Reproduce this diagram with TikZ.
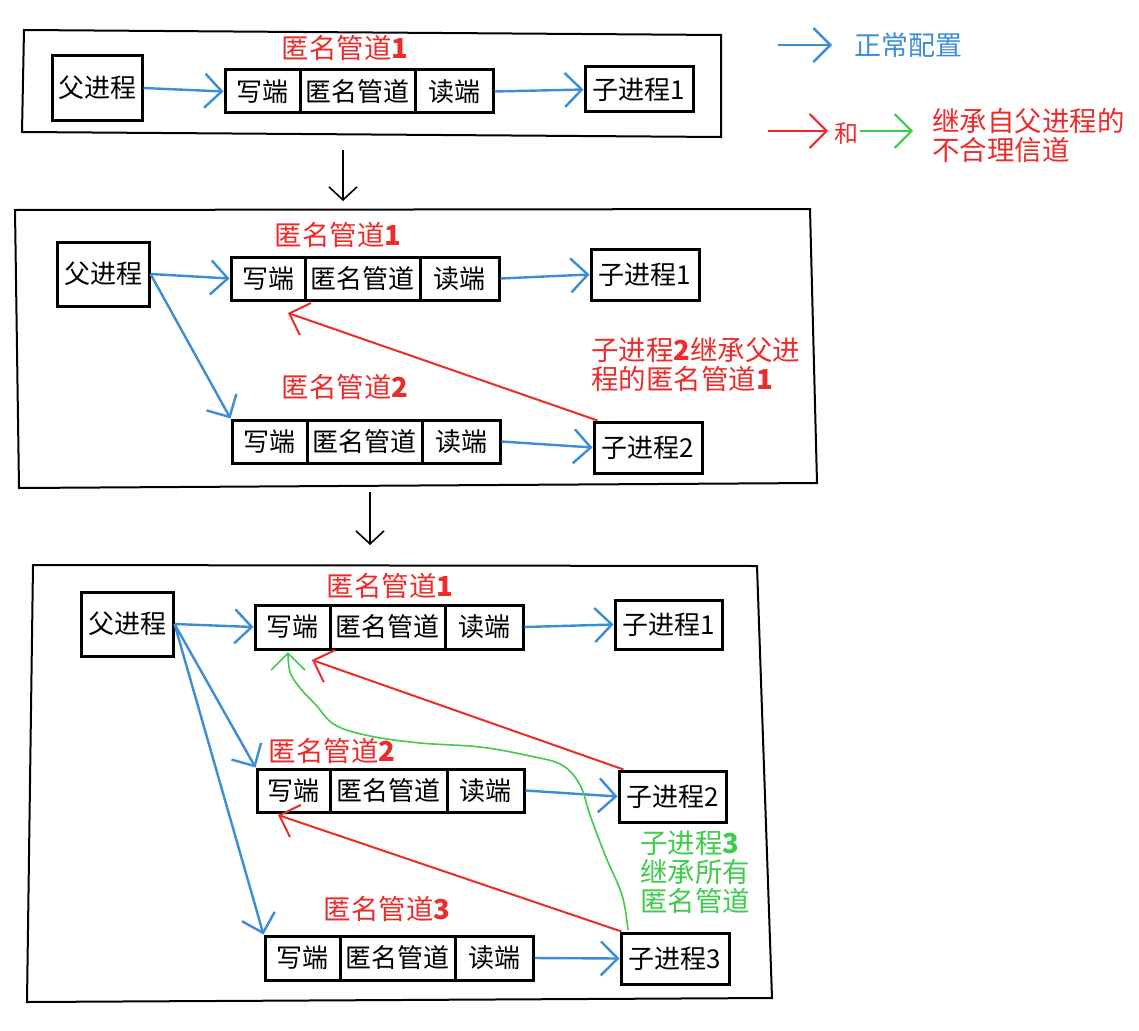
\documentclass[tikz,border=0pt]{standalone}
\usepackage{fontspec}
\setmainfont{Noto Sans CJK SC}
\usetikzlibrary{arrows.meta,calc}
\definecolor{cblue}{HTML}{3C8DD8}
\definecolor{cred}{HTML}{EC2B2B}
\definecolor{cgreen}{HTML}{3FCB4B}
\tikzset{
 bx/.style={draw=black, line width=3pt, inner sep=0pt, font=\fontsize{26}{28}\selectfont},
 frame/.style={draw=black, line width=2pt},
 barb/.style={-{Straight Barb[length=17pt,width=34pt]}},
 bl/.style={cblue, line width=2.4pt, barb},
 rd/.style={cred, line width=2pt, barb},
 gr/.style={cgreen, line width=1.6pt, barb},
 dn/.style={black, line width=1.6pt, -{Straight Barb[length=13pt,width=28pt]}},
 lbl/.style={cred, font=\fontsize{27.5}{29}\selectfont, inner sep=0pt},
 gl/.style={cgreen, font=\fontsize{27.5}{29}\selectfont, inner sep=0pt, align=left},
 leg/.style={font=\fontsize{27.5}{29}\selectfont, inner sep=0pt, align=left},
}
\newcommand\cellbox[6]{\node[bx, minimum width={#4-#2}, minimum height={#5-#3}] (#1) at ({(#2+#4)/2},{(#3+#5)/2}) {#6};}
\newcommand\pipecells[7]{%
 \cellbox{#1w}{#2}{#3}{#4}{#7}{写端}
 \cellbox{#1m}{#4}{#3}{#5}{#7}{匿名管道}
 \cellbox{#1r}{#5}{#3}{#6}{#7}{读端}}
\begin{document}
\begin{tikzpicture}[x=1pt,y=-1pt]
\fill[white] (0,0) rectangle (1139,1030);
\useasboundingbox (0,0) rectangle (1139,1030);

% ---------- panel 1 ----------
\draw[frame] (24,30) -- (721,35) -- (721,137) -- (22,132) -- cycle;
\cellbox{fa}{52}{56}{142}{120}{父进程}
\pipecells{pa}{225}{70}{300}{415}{493}{113}
\cellbox{ca}{585}{67}{693}{112}{子进程1}
\node[lbl] (la) at (345,48) {匿名管道\textbf{1}};
\draw[bl] (fa.east) -- (paw.west);
\draw[bl] (par.east) -- (ca.west);

\coordinate (d1a) at (343,150);
\coordinate (d1b) at (343,201);
\draw[dn] (d1a) -- (d1b);

% ---------- panel 2 ----------
\draw[frame] (15,210) -- (810,209) -- (817,483) -- (19,488) -- cycle;
\cellbox{fb}{57}{242}{149}{306}{父进程}
\pipecells{pb}{231}{257}{305}{420}{499}{300}
\cellbox{cb1}{591}{249}{699}{300}{子进程1}
\pipecells{qb}{232}{420}{307}{422}{500}{463}
\cellbox{cb2}{594}{422}{702}{473}{子进程2}
\node[lbl] (lb1) at (338,235) {匿名管道\textbf{1}};
\node[lbl] (lb2) at (345,387) {匿名管道\textbf{2}};
\node[lbl, anchor=west, align=left, font=\fontsize{27.5}{29}\selectfont] (lb3) at (591,365) {子进程\textbf{2}继承父进\\程的匿名管道\textbf{1}};
\draw[bl] (fb.east) -- (pbw.west);
\draw[bl] (fb.east) -- (qbw.north west);
\draw[bl] (pbr.east) -- (cb1.west);
\draw[bl] (qbr.east) -- (cb2.west);
\coordinate (tb) at (288,313);
\draw[rd] ($(cb2.north west)+(5,0)$) -- (tb);

\coordinate (d2a) at (370,492);
\coordinate (d2b) at (370,545);
\draw[dn] (d2a) -- (d2b);

% ---------- panel 3 ----------
\draw[frame] (33,565) -- (757,566) -- (772,998) -- (27,1002) -- cycle;
\cellbox{fc}{81}{592}{173}{656}{父进程}
\pipecells{pc}{255}{605}{330}{445}{523}{649}
\cellbox{cc1}{615}{600}{722}{649}{子进程1}
\pipecells{qc}{257}{769}{330}{447}{524}{812}
\cellbox{cc2}{619}{771}{726}{822}{子进程2}
\pipecells{rc}{265}{936}{340}{455}{533}{980}
\cellbox{cc3}{621}{933}{729}{984}{子进程3}
\node[lbl] (lc1) at (390,586) {匿名管道\textbf{1}};
\node[lbl] (lc2) at (332,751) {匿名管道\textbf{2}};
\node[lbl] (lc3) at (387,909) {匿名管道\textbf{3}};
\node[gl, anchor=north west] (lc4) at (640,831) {子进程\textbf{3}\\继承所有\\匿名管道};
\draw[bl] (fc.east) -- (pcw.west);
\draw[bl] (fc.east) -- (qcw.north west);
\draw[bl] (fc.east) -- (rcw.north west);
\draw[bl] (pcr.east) -- (cc1.west);
\draw[bl] (qcr.east) -- (cc2.west);
\draw[bl] (rcr.east) -- (cc3.west);
\coordinate (tc1) at (312,660);
\coordinate (tc2) at (278,815);
\draw[rd] ($(cc2.north west)+(6,0)$) -- (tc1);
\draw[rd] ($(cc3.north west)+(2,0)$) -- (tc2);
\draw[gr] plot[smooth, tension=0.6] coordinates {(628,930) (622,895) (605,855) (590,815) (580,785) (562,765) (530,756) (480,747) (420,743) (370,736) (335,725) (316,705) (300,688) (290,672) (288,652)};

% ---------- legend ----------
\coordinate (g1a) at (778,45);
\coordinate (g1b) at (832,45);
\draw[bl] (g1a) -- (g1b);
\node[leg, anchor=west, text=cblue, font=\fontsize{27}{29}\selectfont] (g1t) at (854,45) {正常配置};
\coordinate (g2a) at (768,131);
\coordinate (g2b) at (828,131);
\draw[rd] (g2a) -- (g2b);
\node[leg, text=cred, font=\fontsize{24}{26}\selectfont] (g2h) at (846,133) {和};
\coordinate (g3a) at (860,131);
\coordinate (g3b) at (913,131);
\draw[gr, line width=2pt] (g3a) -- (g3b);
\node[leg, anchor=west, text=cred] (g2t) at (932,136) {继承自父进程的\\不合理信道};
\end{tikzpicture}
\end{document}
